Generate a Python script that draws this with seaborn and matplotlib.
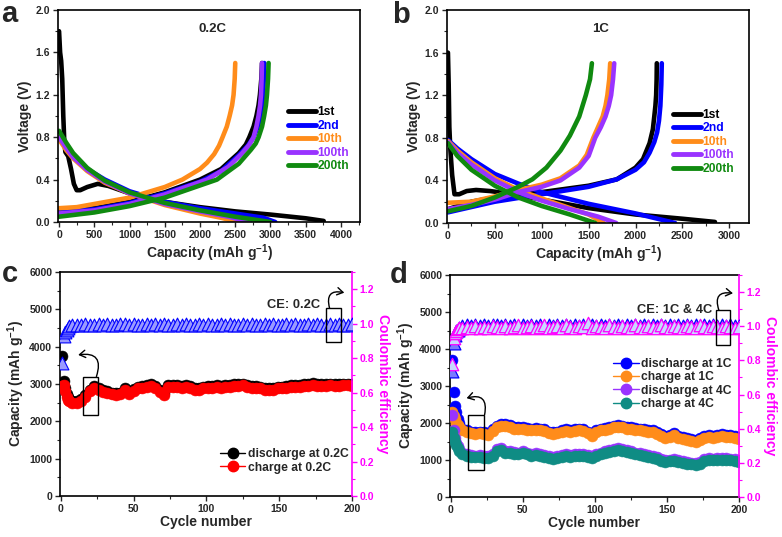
import matplotlib
matplotlib.use("Agg")
import matplotlib.pyplot as plt
import seaborn as sns
import pandas as pd
from matplotlib.lines import Line2D
from matplotlib.patches import Rectangle
from matplotlib.ticker import MultipleLocator

# ---------------- Panel a (0.2C) voltage profiles ----------------
a_labels = ["1st", "2nd", "10th", "100th", "200th"]
a_colors = ["#000000", "#0000ff", "#ff8c1a", "#9933ff", "#108a10"]
a_dis_cap = [
    [0, 15, 30, 45, 60, 75, 90, 130, 170, 210, 250, 300, 400, 550, 700, 1000, 1200, 1500, 2000, 2500, 3000, 3500, 3755],
    [0, 100, 200, 400, 650, 1000, 1500, 2000, 2500, 2900, 3068],
    [0, 100, 200, 400, 650, 1000, 1500, 2000, 2300, 2533],
    [0, 100, 200, 400, 650, 1000, 1500, 2000, 2400, 2713],
    [0, 100, 200, 400, 650, 1000, 1500, 2000, 2500, 2997],
]
a_dis_v = [
    [1.80, 1.60, 1.52, 1.35, 1.00, 0.75, 0.66, 0.62, 0.50, 0.36, 0.30, 0.30, 0.33, 0.36, 0.34, 0.27, 0.24, 0.19, 0.14, 0.10, 0.07, 0.035, 0.01],
    [0.80, 0.70, 0.62, 0.50, 0.40, 0.29, 0.19, 0.13, 0.08, 0.04, 0.0],
    [0.78, 0.68, 0.60, 0.48, 0.37, 0.27, 0.16, 0.08, 0.04, 0.0],
    [0.80, 0.70, 0.61, 0.49, 0.38, 0.27, 0.17, 0.10, 0.05, 0.0],
    [0.86, 0.75, 0.65, 0.51, 0.39, 0.28, 0.18, 0.11, 0.05, 0.0],
]
a_ch_cap = [
    [0, 500, 1000, 1500, 2000, 2300, 2550, 2650, 2700, 2760, 2800, 2830, 2850, 2870, 2880],
    [0, 500, 1000, 1500, 2000, 2300, 2550, 2680, 2760, 2820, 2860, 2882, 2895, 2905, 2912],
    [0, 250, 500, 1000, 1500, 1750, 2000, 2100, 2200, 2270, 2320, 2380, 2420, 2455, 2476, 2492, 2500],
    [0, 500, 1000, 1500, 2100, 2400, 2600, 2700, 2760, 2800, 2830, 2852, 2865, 2874, 2879],
    [0, 500, 1000, 1500, 2240, 2550, 2720, 2790, 2831, 2880, 2910, 2935, 2950, 2965, 2973],
]
a_ch_v = [
    [0.10, 0.13, 0.19, 0.28, 0.40, 0.50, 0.65, 0.73, 0.80, 0.90, 1.00, 1.10, 1.20, 1.35, 1.50],
    [0.09, 0.12, 0.18, 0.27, 0.38, 0.48, 0.63, 0.72, 0.80, 0.90, 1.00, 1.10, 1.20, 1.35, 1.50],
    [0.13, 0.14, 0.17, 0.23, 0.33, 0.40, 0.50, 0.56, 0.64, 0.72, 0.80, 0.90, 1.00, 1.10, 1.20, 1.35, 1.50],
    [0.08, 0.11, 0.17, 0.26, 0.40, 0.52, 0.65, 0.73, 0.80, 0.90, 1.00, 1.10, 1.20, 1.35, 1.50],
    [0.05, 0.09, 0.15, 0.23, 0.40, 0.55, 0.68, 0.74, 0.80, 0.90, 1.00, 1.10, 1.20, 1.35, 1.50],
]

# ---------------- Panel b (1C) voltage profiles ----------------
b_dis_cap = [
    [0, 8, 15, 25, 45, 70, 120, 200, 300, 450, 700, 1000, 1500, 2000, 2500, 2847],
    [0, 100, 250, 500, 750, 1000, 1500, 2000, 2422],
    [0, 100, 250, 500, 750, 1000, 1300, 1500, 1660],
    [0, 100, 250, 500, 750, 1000, 1300, 1600, 1794],
    [0, 100, 250, 500, 750, 1000, 1300, 1571],
]
b_dis_v = [
    [1.60, 1.30, 0.90, 0.70, 0.45, 0.27, 0.27, 0.30, 0.31, 0.30, 0.27, 0.22, 0.14, 0.08, 0.04, 0.01],
    [0.78, 0.70, 0.60, 0.46, 0.37, 0.29, 0.18, 0.09, 0.0],
    [0.77, 0.68, 0.57, 0.42, 0.31, 0.23, 0.14, 0.08, 0.0],
    [0.76, 0.66, 0.55, 0.40, 0.29, 0.21, 0.13, 0.06, 0.0],
    [0.75, 0.63, 0.50, 0.35, 0.24, 0.16, 0.08, 0.0],
]
b_ch_cap = [
    [0, 250, 500, 1000, 1500, 1800, 2000, 2080, 2150, 2185, 2200, 2212, 2220, 2225, 2227],
    [0, 250, 500, 1000, 1500, 1800, 2000, 2090, 2150, 2200, 2230, 2250, 2265, 2275, 2280],
    [0, 250, 500, 750, 1000, 1200, 1400, 1480, 1550, 1610, 1650, 1680, 1700, 1720, 1730],
    [0, 250, 500, 750, 1000, 1200, 1400, 1500, 1570, 1630, 1680, 1715, 1740, 1760, 1773],
    [0, 250, 500, 750, 900, 1050, 1200, 1300, 1400, 1470, 1515, 1535],
]
b_ch_v = [
    [0.13, 0.20, 0.24, 0.29, 0.35, 0.41, 0.52, 0.60, 0.75, 0.88, 1.00, 1.10, 1.20, 1.35, 1.50],
    [0.10, 0.15, 0.20, 0.27, 0.34, 0.41, 0.50, 0.57, 0.66, 0.76, 0.85, 0.96, 1.10, 1.30, 1.50],
    [0.19, 0.20, 0.25, 0.31, 0.36, 0.42, 0.54, 0.64, 0.80, 0.92, 1.00, 1.10, 1.20, 1.35, 1.50],
    [0.13, 0.17, 0.22, 0.29, 0.34, 0.40, 0.52, 0.63, 0.80, 0.90, 1.00, 1.10, 1.20, 1.35, 1.50],
    [0.11, 0.16, 0.24, 0.34, 0.41, 0.52, 0.68, 0.82, 1.00, 1.20, 1.35, 1.50],
]

# ---------------- Panels c, d: cycling ----------------
cycles = [1, 2, 3, 4, 5, 6, 8, 11, 14, 17, 20, 23, 26, 29, 32, 35, 38, 41, 44, 47, 50, 53, 56, 59, 62, 65,
          68, 71, 74, 77, 80, 83, 86, 89, 92, 95, 98, 101, 104, 107, 110, 113, 116, 119, 122, 125, 128, 131,
          134, 137, 140, 143, 146, 149, 152, 155, 158, 161, 164, 167, 170, 173, 176, 179, 182, 185, 188, 191,
          194, 197, 200]

c_discharge = [3750, 3080, 2900, 2720, 2640, 2600,
               2550, 2540, 2590, 2700, 2850, 2950, 2880, 2830, 2800, 2770,
               2750, 2770, 2900, 2780, 2870, 2930, 2950, 2970, 3000, 2950,
               2830, 2750, 2980, 2980, 2970, 2950, 2960, 2950, 2900, 2880,
               2930, 2950, 2950, 2970, 2950, 2980, 2970, 3000, 3000, 3010,
               2980, 2950, 2950, 2930, 2900, 2880, 2900, 2930, 2930, 2950,
               2970, 2980, 2970, 2990, 3000, 3020, 3000, 2990, 3000, 3010,
               3000, 3000, 3010, 3010, 3000]
c_charge = [2950, 2980, 2800, 2650, 2580, 2550,
            2500, 2490, 2540, 2650, 2800, 2900, 2830, 2780, 2750, 2720,
            2700, 2720, 2850, 2730, 2820, 2880, 2900, 2920, 2950, 2900,
            2780, 2700, 2930, 2930, 2920, 2900, 2910, 2900, 2850, 2830,
            2880, 2900, 2900, 2920, 2900, 2930, 2920, 2950, 2950, 2960,
            2930, 2900, 2900, 2880, 2850, 2830, 2850, 2880, 2880, 2900,
            2920, 2930, 2920, 2940, 2950, 2970, 2950, 2940, 2950, 2960,
            2950, 2950, 2960, 2960, 2950]
c_ce = [0.77, 0.93, 0.95, 0.965, 0.975, 0.985,
        0.99, 0.995, 0.995, 1.0, 0.995, 0.995, 1.0, 0.995, 1.0, 0.995,
        0.995, 1.0, 1.0, 0.995, 1.0, 0.995, 0.995, 1.0, 0.995, 1.0,
        0.995, 1.0, 0.995, 0.995, 1.0, 0.995, 1.0, 0.995, 0.995, 1.0,
        0.995, 1.0, 0.995, 0.995, 1.0, 0.995, 1.0, 0.995, 0.995, 1.0,
        0.995, 1.0, 0.995, 0.995, 1.0, 0.995, 1.0, 0.995, 0.995, 1.0,
        0.995, 1.0, 0.995, 0.995, 1.0, 0.995, 1.0, 0.995, 0.995, 1.0,
        0.995, 1.0, 0.995, 0.995, 1.0]

d_discharge_1c = [3700, 2850, 2450, 2300, 2100, 2000,
                  1850, 1800, 1770, 1750, 1770, 1750, 1730, 1830, 1930, 1970,
                  1970, 1950, 1900, 1880, 1900, 1870, 1850, 1870, 1850, 1830,
                  1770, 1750, 1770, 1800, 1830, 1810, 1830, 1850, 1840, 1770,
                  1700, 1810, 1850, 1870, 1900, 1930, 1950, 1930, 1900, 1880,
                  1870, 1850, 1840, 1820, 1810, 1750, 1690, 1650, 1670, 1730,
                  1650, 1610, 1590, 1570, 1530, 1590, 1650, 1670, 1650, 1670,
                  1690, 1670, 1670, 1650, 1630]
d_charge_1c = [2300, 2200, 2100, 2000, 1950, 1900,
               1800, 1750, 1720, 1700, 1720, 1700, 1680, 1780, 1880, 1920,
               1920, 1900, 1850, 1830, 1850, 1820, 1800, 1820, 1800, 1780,
               1720, 1700, 1720, 1750, 1780, 1760, 1780, 1800, 1790, 1720,
               1650, 1760, 1800, 1820, 1850, 1880, 1900, 1880, 1850, 1830,
               1820, 1800, 1790, 1770, 1760, 1700, 1640, 1600, 1620, 1680,
               1600, 1560, 1540, 1520, 1480, 1540, 1600, 1620, 1600, 1620,
               1640, 1620, 1620, 1600, 1580]
d_discharge_4c = [2220, 1810, 1600, 1460, 1380, 1300,
                  1200, 1150, 1130, 1120, 1130, 1110, 1100, 1170, 1300, 1330,
                  1250, 1230, 1210, 1200, 1230, 1200, 1170, 1180, 1150, 1130,
                  1100, 1090, 1110, 1130, 1150, 1140, 1150, 1170, 1150, 1130,
                  1110, 1150, 1200, 1230, 1270, 1300, 1330, 1300, 1270, 1230,
                  1200, 1180, 1150, 1130, 1110, 1070, 1030, 1000, 1010, 1030,
                  1000, 970, 950, 930, 910, 950, 1030, 1050, 1040, 1050,
                  1060, 1050, 1040, 1030, 1000]
d_charge_4c = [1750, 1600, 1480, 1400, 1320, 1250,
               1150, 1100, 1080, 1070, 1080, 1060, 1050, 1120, 1250, 1280,
               1200, 1180, 1160, 1150, 1180, 1150, 1120, 1130, 1100, 1080,
               1050, 1040, 1060, 1080, 1100, 1090, 1100, 1120, 1100, 1080,
               1060, 1100, 1150, 1180, 1220, 1250, 1280, 1250, 1220, 1180,
               1150, 1130, 1100, 1080, 1060, 1020, 980, 950, 960, 980,
               950, 920, 900, 880, 860, 900, 980, 1000, 990, 1000,
               1010, 1000, 990, 980, 950]
d_ce_1c = [0.74, 0.90, 0.95, 0.97, 0.98, 0.99,
           1.0, 1.005, 1.0, 1.005, 1.0, 1.005, 1.0, 1.005, 1.005, 1.0,
           1.005, 1.0, 1.005, 1.0, 1.005, 1.0, 1.005, 1.0, 1.005, 1.0,
           1.005, 1.0, 1.005, 1.0, 1.005, 1.0, 1.005, 1.0, 1.005, 1.0,
           1.005, 1.0, 1.005, 1.0, 1.005, 1.0, 1.005, 1.0, 1.005, 1.0,
           1.005, 1.0, 1.005, 1.0, 1.005, 1.0, 1.005, 1.0, 1.005, 1.0,
           1.005, 1.0, 1.005, 1.0, 1.005, 1.0, 1.005, 1.0, 1.005, 1.0,
           1.005, 1.0, 1.005, 1.0, 1.0]
d_ce_4c = [0.78, 0.93, 0.96, 0.975, 0.985, 0.99,
           0.99, 0.995, 0.99, 1.0, 0.99, 0.995, 0.99, 1.0, 0.995, 0.99,
           1.0, 0.99, 0.995, 1.01, 0.99, 0.995, 1.0, 0.99, 0.995, 1.01,
           0.99, 0.995, 1.0, 0.99, 1.01, 0.995, 0.99, 1.0, 0.995, 1.02,
           0.99, 1.0, 0.995, 0.99, 1.01, 0.995, 0.99, 1.0, 0.995, 0.99,
           1.01, 0.995, 0.99, 1.0, 0.995, 0.99, 1.01, 0.995, 0.99, 1.0,
           0.995, 0.99, 1.0, 0.995, 0.99, 1.01, 0.995, 0.99, 1.0, 0.995,
           0.99, 1.0, 0.995, 0.99, 0.995]

# ---------------- Style ----------------
sns.set_theme(style="ticks")
plt.rcParams.update({
    "font.family": ["Liberation Sans", "DejaVu Sans"],
    "font.weight": "bold",
    "axes.labelweight": "bold",
    "mathtext.fontset": "custom",
    "mathtext.rm": "Liberation Sans:bold",
    "mathtext.bf": "Liberation Sans:bold",
    "mathtext.it": "Liberation Sans:bold",
    "mathtext.default": "bf",
    "axes.linewidth": 1.2,
    "axes.edgecolor": "black",
})

MAG = "#ff00ff"
fig = plt.figure(figsize=(7.82, 5.37), dpi=100)
W, H = 782.0, 537.0


def add_axes(l, r, t, b):
    return fig.add_axes([l / W, 1 - b / H, (r - l) / W, (b - t) / H])


def style(ax, xmaj, xmin, ymaj, ymin):
    ax.xaxis.set_major_locator(MultipleLocator(xmaj))
    ax.xaxis.set_minor_locator(MultipleLocator(xmin))
    ax.yaxis.set_major_locator(MultipleLocator(ymaj))
    ax.yaxis.set_minor_locator(MultipleLocator(ymin))
    ax.tick_params(which="major", direction="out", length=3.5, width=1.0, labelsize=7.5, pad=2,
                   top=False, right=False)
    ax.tick_params(which="minor", direction="out", length=2, width=0.8, top=False, right=False)
    for lab in ax.get_xticklabels() + ax.get_yticklabels():
        lab.set_fontweight("bold")


def profile_panel(ax, dis_cap, dis_v, ch_cap, ch_v, xlim, rate, legend_anchor):
    for i, col in enumerate(a_colors):
        for cap, v in ((dis_cap[i], dis_v[i]), (ch_cap[i], ch_v[i])):
            df = pd.DataFrame({"cap": cap, "v": v})
            sns.lineplot(data=df, x="cap", y="v", sort=False, estimator=None, color=col,
                         linewidth=3.3, ax=ax, legend=False, solid_capstyle="round",
                         solid_joinstyle="round")
    ax.set_xlim(*xlim)
    ax.set_ylim(0, 2.0)
    style(ax, 500, 250, 0.4, 0.2)
    ax.yaxis.set_major_formatter(matplotlib.ticker.FormatStrFormatter("%.1f"))
    ax.set_xlabel("Capacity (mAh g$^{-1}$)", fontsize=10, labelpad=2)
    ax.set_ylabel("Voltage (V)", fontsize=10, labelpad=3)
    ax.text(0.51, 0.91, rate, transform=ax.transAxes, ha="center", va="center",
            fontsize=9.5, fontweight="bold")
    handles = [Line2D([0], [0], color=c, lw=3.5) for c in a_colors]
    ax.legend(handles, a_labels, loc="upper left", bbox_to_anchor=legend_anchor, frameon=False,
              handlelength=2.3, handletextpad=0.15, labelspacing=0.12,
              borderpad=0, borderaxespad=0, labelcolor="linecolor",
              prop={"weight": "bold", "size": 8.7})


ax_a = add_axes(58, 360, 10, 222)
profile_panel(ax_a, a_dis_cap, a_dis_v, a_ch_cap, a_ch_v, (-15, 4270), "0.2C", (0.762, 0.545))
ax_b = add_axes(447, 749, 10, 223)
profile_panel(ax_b, b_dis_cap, b_dis_v, b_ch_cap, b_ch_v, (-10, 3210), "1C", (0.748, 0.535))


def cycle_axes(ax):
    ax.set_xlim(-0.5, 200)
    ax.set_ylim(0, 6000)
    style(ax, 50, 25, 1000, 500)
    ax.spines["right"].set_visible(False)
    ax.set_xlabel("Cycle number", fontsize=10, labelpad=1)
    ax.set_ylabel("Capacity (mAh g$^{-1}$)", fontsize=10, labelpad=2)
    ax2 = ax.twinx()
    ax2.set_ylim(0, 1.3)
    ax2.yaxis.set_major_locator(MultipleLocator(0.2))
    ax2.yaxis.set_minor_locator(MultipleLocator(0.1))
    ax2.yaxis.set_major_formatter(matplotlib.ticker.FormatStrFormatter("%.1f"))
    ax2.tick_params(which="major", direction="out", length=3.5, width=1.0, labelsize=7.5, pad=2,
                    colors=MAG)
    ax2.tick_params(which="minor", direction="out", length=2, width=0.8, colors=MAG)
    for s in ("left", "top", "bottom"):
        ax2.spines[s].set_visible(False)
    ax2.spines["right"].set_color(MAG)
    ax2.spines["right"].set_linewidth(1.2)
    for lab in ax2.get_yticklabels():
        lab.set_fontweight("bold")
    ax2.set_ylabel("Coulombic efficiency", fontsize=10, color=MAG, rotation=270, labelpad=11)
    return ax2


def scatter(ax, y, color, edge=None, s=62, marker="o", z=3, fc=None, lw=0.4):
    df = pd.DataFrame({"cycle": cycles, "val": y})
    kws = dict(marker=marker, s=s, linewidth=lw, zorder=z, legend=False)
    if fc is not None:
        kws["facecolors"] = fc
        kws["edgecolors"] = edge
    else:
        kws["color"] = color
        kws["edgecolor"] = edge if edge else color
    sns.scatterplot(data=df, x="cycle", y="val", ax=ax, **kws)


def arrow(ax, start, end, rad):
    ax.annotate("", xy=end, xytext=start,
                arrowprops=dict(arrowstyle="->,head_length=0.35,head_width=0.22", lw=1.0,
                                color="black", connectionstyle=f"arc3,rad={rad}",
                                shrinkA=0, shrinkB=0))


# ---- panel c ----
ax_c = add_axes(60, 352, 272, 496)
ax_c2 = cycle_axes(ax_c)
scatter(ax_c, c_discharge, "black")
scatter(ax_c, c_charge, "#ff0000")
scatter(ax_c2, c_ce, "#0000ff", edge="#0000ff", marker="^", s=85, fc="#9a9aff", lw=0.8)
ax_c.legend([Line2D([0], [0], color="black", lw=1, marker="o", ms=7.5),
             Line2D([0], [0], color="#ff0000", lw=1, marker="o", ms=7.5)],
            ["discharge at 0.2C", "charge at 0.2C"], loc="upper left", bbox_to_anchor=(0.548, 0.215),
            frameon=False, handlelength=2.1, handletextpad=0.2, labelspacing=0.15, borderpad=0,
            borderaxespad=0, prop={"weight": "bold", "size": 8.7})
ax_c.add_patch(Rectangle((15.5, 2170), 10, 1030, fill=False, ec="black", lw=1.0, zorder=6))
arrow(ax_c, (24.5, 3200), (12, 3780), 0.8)
ax_c2.add_patch(Rectangle((182.3, 0.895), 10, 0.194, fill=False, ec="black", lw=1.0, zorder=6))
arrow(ax_c2, (184.6, 1.09), (194.7, 1.18), -0.8)
ax_c2.text(160, 1.108, "CE: 0.2C", ha="center", va="center", fontsize=9.3, fontweight="bold")

# ---- panel d ----
ax_d = add_axes(450, 739, 275, 497)
ax_d2 = cycle_axes(ax_d)
scatter(ax_d, d_discharge_1c, "#0000ff")
scatter(ax_d, d_charge_1c, "#ff8c1a")
scatter(ax_d, d_discharge_4c, "#9933ff")
scatter(ax_d, d_charge_4c, "#0f8c84")
scatter(ax_d2, d_ce_1c, "#0000ff", edge="#0000ff", marker="^", s=85, fc="#7a7aff", lw=0.9)
scatter(ax_d2, d_ce_4c, MAG, edge=MAG, marker="^", s=80, fc="#c8d8ff", lw=0.9)
ax_d.legend([Line2D([0], [0], color="#0000ff", lw=1, marker="o", ms=7.5),
             Line2D([0], [0], color="#ff8c1a", lw=1, marker="o", ms=7.5),
             Line2D([0], [0], color="#9933ff", lw=1, marker="o", ms=7.5),
             Line2D([0], [0], color="#0f8c84", lw=1, marker="o", ms=7.5)],
            ["discharge at 1C", "charge at 1C", "discharge at 4C", "charge at 4C"],
            loc="upper left", bbox_to_anchor=(0.565, 0.625), frameon=False, handlelength=2.1,
            handletextpad=0.2, labelspacing=0.1, borderpad=0, borderaxespad=0,
            prop={"weight": "bold", "size": 8.7})
ax_d.add_patch(Rectangle((12.2, 720), 11, 1500, fill=False, ec="black", lw=1.0, zorder=6))
arrow(ax_d, (23.5, 2222), (11, 2672), 0.8)
ax_d2.add_patch(Rectangle((183.8, 0.89), 10, 0.205, fill=False, ec="black", lw=1.0, zorder=6))
arrow(ax_d2, (186, 1.095), (195.8, 1.193), -0.8)
ax_d2.text(155.4, 1.095, "CE: 1C & 4C", ha="center", va="center", fontsize=9.3, fontweight="bold")

# ---- panel letters ----
for x, y, t in ((1, 22, "a"), (392, 23, "b"), (2, 282, "c"), (390, 283, "d")):
    fig.text(x / W, 1 - y / H, t, fontsize=21, fontweight="bold", ha="left", va="baseline")

fig.savefig("out.png", dpi=100)
